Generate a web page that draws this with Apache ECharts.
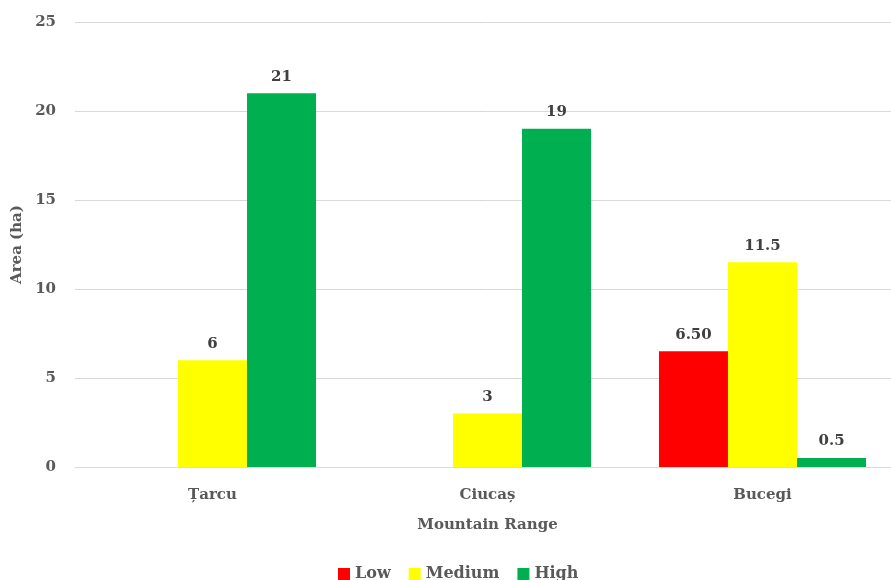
<!DOCTYPE html>
<html>
<head>
<meta charset="utf-8">
<script src="https://cdn.jsdelivr.net/npm/echarts@6/dist/echarts.min.js"></script>
<style>
  html, body { margin: 0; padding: 0; background: #fff; overflow: hidden; }
  /* the plot runs a little past the right edge of the window */
  #chart { width: 900px; height: 580px; }
</style>
</head>
<body>
<div id="chart"></div>
<script>
// Mountain ranges on the category axis
const categories = ['Țarcu', 'Ciucaș', 'Bucegi'];
// Area (ha) per class; null where a class is absent
const lowValues = [null, null, 6.5];
const mediumValues = [6, 3, 11.5];
const highValues = [21, 19, 0.5];
// Value axis ticks
const yMin = 0, yMax = 25, yStep = 5;

const FONT = '"DejaVu Serif", "Liberation Serif", serif';
const textGray = '#595959';

function barLabel(fmt) {
  return {
    show: true,
    position: 'top',
    distance: 9,
    fontFamily: FONT,
    fontWeight: 'bold',
    fontSize: 15,
    color: '#404040',
    formatter: fmt
  };
}

const chart = echarts.init(document.getElementById('chart'));
chart.setOption({
  animation: false,
  grid: { left: 75, right: 0, top: 22, bottom: 113 },
  legend: {
    top: 561,
    left: 333,
    itemWidth: 12,
    itemHeight: 12,
    itemGap: 18,
    icon: 'rect',
    textStyle: { fontFamily: FONT, fontWeight: 'bold', fontSize: 16, color: textGray },
    data: ['Low', 'Medium', 'High']
  },
  xAxis: {
    type: 'category',
    data: categories,
    name: 'Mountain Range',
    nameLocation: 'middle',
    nameGap: 51,
    nameTextStyle: { fontFamily: FONT, fontWeight: 'bold', fontSize: 15, color: textGray },
    axisLine: { show: true, lineStyle: { color: '#d9d9d9' } },
    axisTick: { show: false },
    axisLabel: { fontFamily: FONT, fontWeight: 'bold', fontSize: 15, color: textGray, margin: 21 }
  },
  yAxis: {
    type: 'value',
    min: yMin,
    max: yMax,
    interval: yStep,
    name: 'Area (ha)',
    nameLocation: 'middle',
    nameGap: 43,
    nameTextStyle: { fontFamily: FONT, fontWeight: 'bold', fontSize: 15, color: textGray },
    axisLine: { show: false },
    axisTick: { show: false },
    axisLabel: { fontFamily: FONT, fontWeight: 'bold', fontSize: 15, color: textGray, margin: 19 },
    splitLine: { lineStyle: { color: '#d9d9d9', width: 1 } }
  },
  series: [
    {
      name: 'Low', type: 'bar', data: lowValues,
      itemStyle: { color: '#FF0000' },
      barGap: '0%', barCategoryGap: '24.7%',
      label: barLabel(p => p.value.toFixed(2))
    },
    {
      name: 'Medium', type: 'bar', data: mediumValues,
      itemStyle: { color: '#FFFF00' },
      barGap: '0%', barCategoryGap: '24.7%',
      label: barLabel(p => String(p.value))
    },
    {
      name: 'High', type: 'bar', data: highValues,
      itemStyle: { color: '#00B050' },
      barGap: '0%', barCategoryGap: '24.7%',
      label: barLabel(p => String(p.value))
    }
  ]
});
</script>
</body>
</html>
